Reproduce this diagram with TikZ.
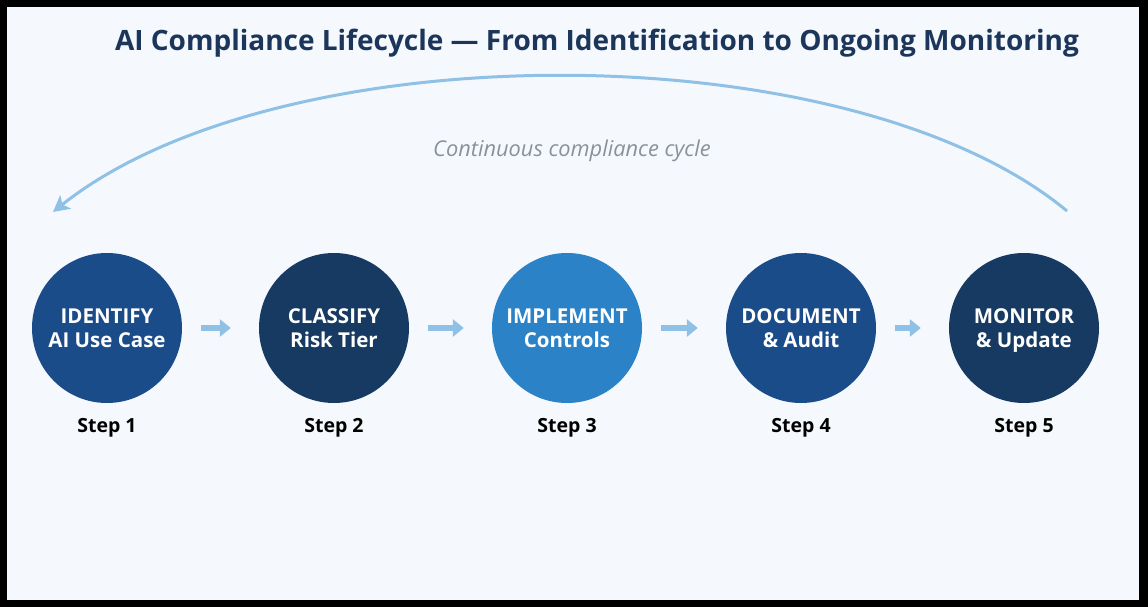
\documentclass[tikz,border=0pt]{standalone}
\usepackage{fontspec}
\setmainfont{Open Sans}
\usetikzlibrary{positioning,arrows.meta}
\definecolor{framebg}{HTML}{F5F8FC}
\definecolor{titleblue}{HTML}{1B365A}
\definecolor{midnavy}{HTML}{1B4C8A}
\definecolor{darknavy}{HTML}{173A62}
\definecolor{brightblue}{HTML}{2B82C6}
\definecolor{paleblue}{HTML}{8FC0E5}
\definecolor{cyclegray}{HTML}{8A9299}
\begin{document}
\begin{tikzpicture}[x=1pt,y=-1pt,
    stepcircle/.style={circle,minimum size=150pt,inner sep=0pt,text=white,
      font=\fontsize{20.5}{24}\selectfont\bfseries,align=center,text depth=0pt},
    steplbl/.style={font=\fontsize{19.5}{23}\selectfont\bfseries},
    flowarrow/.style={paleblue,line width=6pt,shorten <=19pt,shorten >=28pt,
      -{Triangle[length=11pt,width=17pt]}}]
      \fill[black] (0,0) rectangle (1148,607) ;
      \fill[framebg] (7,7) rectangle (1139,600) ;
      \node[text=titleblue,font=\fontsize{28}{33}\selectfont\bfseries] %
      (title) at (597,43) {AI Compliance Lifecycle — From Identification to Ongoing Monitoring} ;
      \node[stepcircle,fill=midnavy] (c1) at (107,328) {IDENTIFY\\AI Use Case} ;
      \node[stepcircle,fill=darknavy] (c2) at (334,328) {CLASSIFY\\Risk Tier} ;
      \node[stepcircle,fill=brightblue] (c3) at (567,328) {IMPLEMENT\\Controls} ;
      \node[stepcircle,fill=midnavy] (c4) at (801,328) {DOCUMENT\\\&~Audit} ;
      \node[stepcircle,fill=darknavy] (c5) at (1024,328) {MONITOR\\\&~Update} ;
      \foreach \i in {1,...,5}
        \node[steplbl,below=12pt of c\i] (s\i) {Step \i} ;
      \foreach \a/\b in {c1/c2,c2/c3,c3/c4,c4/c5}
        \draw[flowarrow] (\a) -- (\b) ;
      \coordinate (arcstart) at (1067,211) ;
      \coordinate (arcend) at (53,212) ;
      \draw[paleblue,line width=3pt,-{Stealth[length=16pt,width=17pt,inset=4pt]}] %
      (arcstart) .. controls (850,31) and (280,31) .. (arcend) ;
      \node[text=cyclegray,font=\fontsize{21.8}{26}\selectfont\itshape] %
      (cycle) at (572,151) {Continuous compliance cycle} ;
    \end{tikzpicture}
\end{document}
